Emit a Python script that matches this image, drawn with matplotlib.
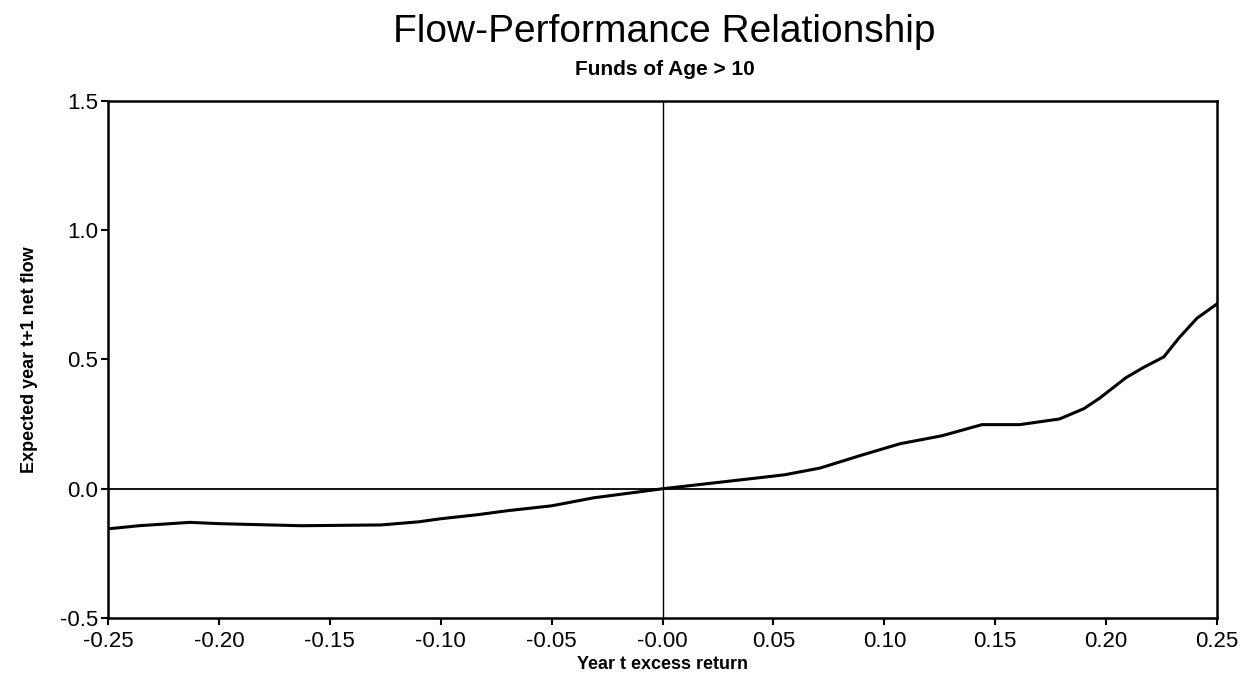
"""Flow-performance relationship, funds of age > 10."""

import matplotlib

matplotlib.use("Agg")
import matplotlib.pyplot as plt

# Courbe
excess_return = [-0.25, -0.236, -0.213, -0.200, -0.163, -0.127, -0.110, -0.100,
                 -0.083, -0.070, -0.050, -0.031, 0.000, 0.044, 0.055, 0.071,
                 0.089, 0.107, 0.126, 0.144, 0.161, 0.179, 0.190, 0.197,
                 0.209, 0.217, 0.226, 0.233, 0.241, 0.250]
net_flow = [-0.155, -0.143, -0.130, -0.135, -0.143, -0.140, -0.128, -0.116,
            -0.100, -0.085, -0.066, -0.035, 0.000, 0.043, 0.054, 0.080,
            0.128, 0.174, 0.205, 0.248, 0.248, 0.270, 0.310, 0.350,
            0.430, 0.470, 0.510, 0.585, 0.660, 0.715]

x_ticks = [-0.25, -0.20, -0.15, -0.10, -0.05, 0.0, 0.05, 0.10, 0.15, 0.20, 0.25]
x_tick_labels = ["-0.25", "-0.20", "-0.15", "-0.10", "-0.05", "-0.00",
                 "0.05", "0.10", "0.15", "0.20", "0.25"]
y_ticks = [-0.5, 0.0, 0.5, 1.0, 1.5]
y_tick_labels = ["-0.5", "0.0", "0.5", "1.0", "1.5"]

plt.rcParams["font.family"] = ["Liberation Sans", "DejaVu Sans"]

fig = plt.figure(figsize=(12.49, 6.81), dpi=100)
ax = fig.add_axes([0.0865, 0.0925, 0.8879, 0.7592])

ax.plot(excess_return, net_flow, color="black", linewidth=2.2)
ax.axhline(0.0, color="black", linewidth=1.3)
ax.axvline(0.0, color="black", linewidth=1.0)

ax.set_xlim(-0.25, 0.25)
ax.set_ylim(-0.5, 1.5)
ax.set_xticks(x_ticks)
ax.set_xticklabels(x_tick_labels)
ax.set_yticks(y_ticks)
ax.set_yticklabels(y_tick_labels)
ax.tick_params(direction="out", length=5, width=1.5, labelsize=16,
               colors="black")
ax.tick_params(axis="x", pad=4)
ax.tick_params(axis="y", pad=2)

for spine in ax.spines.values():
    spine.set_linewidth(1.8)

ax.set_xlabel("Year t excess return", fontsize=13, fontweight="bold", labelpad=3)
ax.set_ylabel("Expected year t+1 net flow", fontsize=13, fontweight="bold",
              labelpad=16)

fig.text(0.532, 0.938, "Flow-Performance Relationship", ha="center",
         va="baseline", fontsize=28)
fig.text(0.532, 0.89, "Funds of Age > 10", ha="center", va="baseline",
         fontsize=15, fontweight="bold")

fig.savefig("out.png", dpi=100, facecolor="white")
